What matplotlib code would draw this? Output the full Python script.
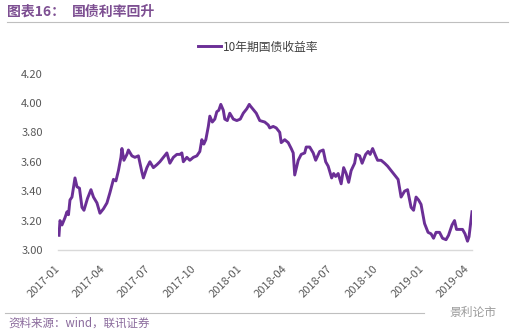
import matplotlib
matplotlib.use("Agg")
import matplotlib.pyplot as plt
import matplotlib.dates as mdates
import pandas as pd

# 10-year China government bond yield
dates = [
    "2017-01-03", "2017-01-05", "2017-01-09", "2017-01-15", "2017-01-19", "2017-01-22",
    "2017-01-25", "2017-01-29", "2017-02-04", "2017-02-08", "2017-02-13", "2017-02-18",
    "2017-02-22", "2017-03-01", "2017-03-08", "2017-03-13", "2017-03-20", "2017-03-26",
    "2017-04-02", "2017-04-09", "2017-04-15", "2017-04-22", "2017-04-27", "2017-05-02",
    "2017-05-07", "2017-05-09", "2017-05-13", "2017-05-19", "2017-05-22", "2017-05-29",
    "2017-06-04", "2017-06-11", "2017-06-18", "2017-06-21", "2017-06-28", "2017-07-04",
    "2017-07-11", "2017-07-18", "2017-07-24", "2017-07-31", "2017-08-07", "2017-08-13",
    "2017-08-20", "2017-08-27", "2017-09-02", "2017-09-06", "2017-09-09", "2017-09-16",
    "2017-09-22", "2017-09-29", "2017-10-06", "2017-10-12", "2017-10-16", "2017-10-20",
    "2017-10-24", "2017-10-29", "2017-11-01", "2017-11-06", "2017-11-11", "2017-11-15",
    "2017-11-19", "2017-11-23", "2017-11-28", "2017-12-01", "2017-12-06", "2017-12-11",
    "2017-12-18", "2017-12-25", "2018-01-01", "2018-01-07", "2018-01-14", "2018-01-19",
    "2018-01-21", "2018-02-02", "2018-02-09", "2018-02-19", "2018-02-26", "2018-03-01",
    "2018-03-08", "2018-03-14", "2018-03-21", "2018-03-24", "2018-03-31", "2018-04-07",
    "2018-04-13", "2018-04-17", "2018-04-20", "2018-04-27", "2018-05-03", "2018-05-10",
    "2018-05-13", "2018-05-20", "2018-05-27", "2018-06-01", "2018-06-09", "2018-06-16",
    "2018-06-21", "2018-06-26", "2018-07-03", "2018-07-07", "2018-07-11", "2018-07-16",
    "2018-07-22", "2018-07-27", "2018-08-01", "2018-08-06", "2018-08-11", "2018-08-18",
    "2018-08-21", "2018-08-28", "2018-09-02", "2018-09-09", "2018-09-14", "2018-09-18",
    "2018-09-23", "2018-09-29", "2018-10-03", "2018-10-10", "2018-10-17", "2018-10-23",
    "2018-10-30", "2018-11-06", "2018-11-13", "2018-11-19", "2018-11-26", "2018-12-02",
    "2018-12-09", "2018-12-14", "2018-12-19", "2018-12-24", "2018-12-29", "2019-01-05",
    "2019-01-12", "2019-01-18", "2019-01-23", "2019-01-28", "2019-02-04", "2019-02-10",
    "2019-02-17", "2019-02-22", "2019-03-01", "2019-03-06", "2019-03-10", "2019-03-17",
    "2019-03-22", "2019-03-27", "2019-04-01", "2019-04-04", "2019-04-10",
]
yields = [
    3.10, 3.20, 3.17, 3.22, 3.26, 3.24,
    3.34, 3.36, 3.49, 3.43, 3.42, 3.29,
    3.27, 3.35, 3.41, 3.36, 3.32, 3.25,
    3.28, 3.32, 3.39, 3.48, 3.47, 3.54,
    3.63, 3.69, 3.61, 3.65, 3.68, 3.64,
    3.63, 3.64, 3.53, 3.49, 3.56, 3.60,
    3.56, 3.58, 3.60, 3.63, 3.66, 3.59,
    3.63, 3.65, 3.65, 3.66, 3.60, 3.63,
    3.61, 3.63, 3.64, 3.67, 3.75, 3.72,
    3.75, 3.84, 3.91, 3.87, 3.89, 3.94,
    3.95, 3.99, 3.95, 3.89, 3.88, 3.93,
    3.89, 3.88, 3.89, 3.93, 3.96, 3.99,
    3.98, 3.93, 3.88, 3.87, 3.85, 3.83,
    3.84, 3.83, 3.80, 3.73, 3.75, 3.73,
    3.69, 3.66, 3.51, 3.61, 3.65, 3.66,
    3.70, 3.70, 3.66, 3.61, 3.67, 3.68,
    3.60, 3.57, 3.49, 3.52, 3.50, 3.52,
    3.45, 3.56, 3.52, 3.46, 3.54, 3.59,
    3.65, 3.64, 3.59, 3.65, 3.67, 3.65,
    3.69, 3.64, 3.61, 3.61, 3.59, 3.57,
    3.54, 3.51, 3.48, 3.36, 3.40, 3.41,
    3.29, 3.27, 3.36, 3.34, 3.31, 3.18,
    3.12, 3.11, 3.08, 3.12, 3.12, 3.08,
    3.07, 3.10, 3.17, 3.20, 3.14, 3.14,
    3.14, 3.11, 3.06, 3.09, 3.26,
]
tick_dates = ["2017-01", "2017-04", "2017-07", "2017-10", "2018-01",
              "2018-04", "2018-07", "2018-10", "2019-01", "2019-04"]
y_ticks = [3.00, 3.20, 3.40, 3.60, 3.80, 4.00, 4.20]

series_name = "10年期国债收益率"
title_left = "图表16："
title_right = "国债利率回升"
source = "资料来源：wind，联讯证券"
watermark = "景利论市"

CJK = ["Noto Sans CJK SC", "DejaVu Sans"]
plt.rcParams["font.family"] = CJK
PURPLE = "#6b2f96"
TITLE_C = "#7d4f92"
GRAY = "#595959"
W, H = 513, 335


def fx(px):
    return px / W


def fy(py):
    return 1 - py / H


fig = plt.figure(figsize=(W / 100, H / 100), dpi=100)
ax = fig.add_axes([fx(58), fy(250), fx(472) - fx(58), fy(73.5) - fy(250)])

x = pd.to_datetime(dates)
ax.plot(x, yields, color=PURPLE, lw=2.1, solid_joinstyle="round")
ax.set_xlim(x[0], x[-1])
ax.set_ylim(3.0, 4.2)
ax.set_yticks(y_ticks)
ax.set_yticklabels([f"{v:.2f}" for v in y_ticks])
ax.set_xticks(pd.to_datetime(tick_dates))
ax.xaxis.set_major_formatter(mdates.DateFormatter("%Y-%m"))
for s in ["top", "right", "left"]:
    ax.spines[s].set_visible(False)
ax.spines["bottom"].set_color("#d9d9d9")
ax.spines["bottom"].set_linewidth(1.0)
ax.tick_params(axis="both", length=0, labelsize=8, colors=GRAY)
ax.tick_params(axis="y", pad=11)
ax.tick_params(axis="x", pad=12)
for lab in ax.get_xticklabels():
    lab.set_rotation(45)
    lab.set_ha("right")
    lab.set_va("center")
    lab.set_rotation_mode("anchor")

# legend drawn at the top centre
ax.plot([], [], color=PURPLE, lw=2.1, label=series_name)
fig.legend(loc="center", bbox_to_anchor=(fx(258), fy(47)), frameon=False,
           fontsize=8.5, handlelength=2.0, handletextpad=0.15, labelcolor="#404040")

# header
fig.text(fx(7), fy(12), title_left, fontsize=10, color=TITLE_C, fontweight="bold",
         va="center", ha="left")
fig.text(fx(72), fy(12), title_right, fontsize=10, color=TITLE_C, fontweight="bold",
         va="center", ha="left")
fig.add_artist(plt.Line2D([fx(7), fx(508)], [fy(21.5), fy(21.5)],
                          color="#bfbfbf", lw=0.8))

# footer
fig.add_artist(plt.Line2D([fx(5), fx(424)], [fy(312.5), fy(312.5)],
                          color="#bfbfbf", lw=0.8))
fig.text(fx(8), fy(323), source, fontsize=8.3, color="#8a6a9c", style="italic",
         va="center", ha="left")
fig.text(fx(449), fy(312), watermark, fontsize=8.5, color="#9a9a9a",
         va="center", ha="left")

fig.savefig("out.png", dpi=100)
